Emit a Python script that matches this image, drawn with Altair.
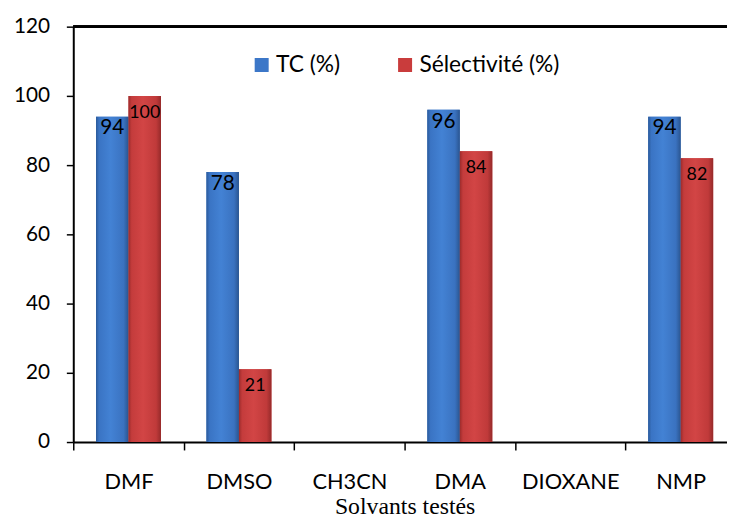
import altair as alt
import pandas as pd

categories = ["DMF", "DMSO", "CH3CN", "DMA", "DIOXANE", "NMP"]
series_names = ["TC (%)", "Sélectivité (%)"]
tc_values = [94, 78, 0, 96, 0, 94]
sel_values = [100, 21, 0, 84, 0, 82]
y_ticks = [0, 20, 40, 60, 80, 100, 120]

rows = []
for c, v in zip(categories, tc_values):
    rows.append({"solvant": c, "serie": series_names[0], "valeur": v})
for c, v in zip(categories, sel_values):
    rows.append({"solvant": c, "serie": series_names[1], "valeur": v})
df = pd.DataFrame(rows)

FONT = "Lato"
BLUE = "#3c77c8"
RED = "#c93c3c"

x_enc = alt.X(
    "solvant:N",
    sort=categories,
    scale=alt.Scale(range=[0, 670], paddingInner=0, paddingOuter=0),
    axis=alt.Axis(
        title="Solvants testés",
        titleFont="Liberation Serif",
        titleFontSize=24,
        titleFontWeight="normal",
        titleColor="black",
        titlePadding=2,
        labelFont=FONT,
        labelFontSize=22,
        labelColor="black",
        labelAngle=0,
        labelPadding=22,
        tickBand="extent",
        tickSize=8,
        tickColor="black",
        tickWidth=1.5,
        domainColor="black",
        domainWidth=2,
    ),
)
xoff_enc = alt.XOffset(
    "serie:N", sort=series_names,
    scale=alt.Scale(paddingOuter=0.7, paddingInner=0),
)
y_enc = alt.Y(
    "valeur:Q",
    scale=alt.Scale(domain=[0, 120], nice=False),
    axis=alt.Axis(
        values=y_ticks,
        title=None,
        grid=False,
        labelFont=FONT,
        labelFontSize=21,
        labelColor="black",
        labelPadding=17,
        tickSize=7,
        tickColor="black",
        tickWidth=1.5,
        domainColor="black",
        domainWidth=2,
    ),
)

base = alt.Chart(df).encode(x=x_enc, xOffset=xoff_enc, y=y_enc)

bars_legend = base.mark_bar().encode(
    color=alt.Color(
        "serie:N",
        sort=series_names,
        scale=alt.Scale(domain=series_names, range=[BLUE, RED]),
        legend=alt.Legend(
            title=None,
            orient="none",
            legendX=179,
            legendY=27,
            direction="horizontal",
            symbolType="square",
            symbolSize=200,
            symbolStrokeWidth=0,
            labelFont=FONT,
            labelFontSize=23,
            labelColor="black",
            labelOffset=3,
            columnPadding=54,
        ),
    )
)

blue_grad = alt.Gradient(
    gradient="linear", x1=0, x2=1, y1=0, y2=0,
    stops=[
        alt.GradientStop(color="#2b5a9a", offset=0),
        alt.GradientStop(color="#3a74c4", offset=0.1),
        alt.GradientStop(color="#4382d4", offset=0.45),
        alt.GradientStop(color="#3a72c0", offset=0.85),
        alt.GradientStop(color="#2a5590", offset=1),
    ],
)
red_grad = alt.Gradient(
    gradient="linear", x1=0, x2=1, y1=0, y2=0,
    stops=[
        alt.GradientStop(color="#9c2b2b", offset=0),
        alt.GradientStop(color="#c43c3c", offset=0.1),
        alt.GradientStop(color="#d24545", offset=0.45),
        alt.GradientStop(color="#c03a3a", offset=0.85),
        alt.GradientStop(color="#962a2a", offset=1),
    ],
)

bars_blue = base.transform_filter(alt.datum.serie == series_names[0]).mark_bar(color=blue_grad)
bars_red = base.transform_filter(alt.datum.serie == series_names[1]).mark_bar(color=red_grad)

labels_blue = base.transform_filter(
    (alt.datum.serie == series_names[0]) & (alt.datum.valeur > 0)
).mark_text(baseline="middle", dy=12, font=FONT, fontSize=21, color="black").encode(
    text="valeur:Q"
)
labels_red = base.transform_filter(
    (alt.datum.serie == series_names[1]) & (alt.datum.valeur > 0)
).mark_text(baseline="middle", dy=17, font=FONT, fontSize=18, color="black").encode(
    text="valeur:Q"
)

top_line = alt.Chart(df).mark_rule(color="black", strokeWidth=2).encode(y=alt.datum(120))

chart = alt.layer(
    bars_legend, bars_blue, bars_red, labels_blue, labels_red, top_line
).properties(
    width=661,
    height=420,
    autosize=alt.AutoSizeParams(type="none"),
    padding={"left": 66, "top": 16, "right": 0, "bottom": 80},
).configure_view(stroke=None).configure(background="white")

chart.save("out.html", embed_options={"renderer": "svg", "actions": False})
